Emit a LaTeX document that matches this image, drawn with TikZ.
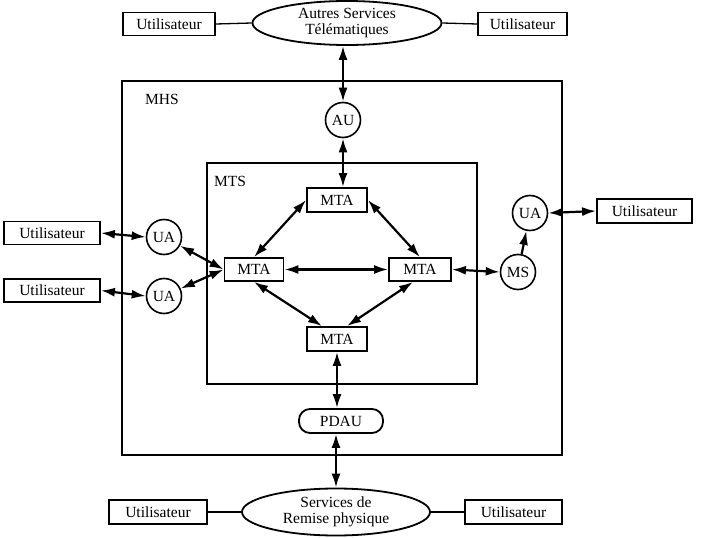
\documentclass[tikz,border=0pt]{standalone}
\usepackage{fontspec}
\setmainfont{Liberation Serif}
\usetikzlibrary{shapes.geometric,arrows.meta,calc}
\begin{document}
\begin{tikzpicture}[x=1pt,y=-1pt,
  every node/.style={font=\fontsize{15.5}{16}\selectfont, inner sep=0pt},
  userbox/.style={draw, line width=1.8pt, minimum height=23pt},
  mtabox/.style={draw, line width=1.8pt, minimum width=60pt, minimum height=24pt},
  agent/.style={draw, circle, line width=1.6pt, minimum size=35pt},
  svc/.style={draw, ellipse, line width=1.8pt, align=center},
  frame/.style={draw, line width=1.8pt},
  link/.style={line width=1.3pt},
  biarrow/.style={line width=2.2pt, {Latex[length=14pt,width=9pt]}-{Latex[length=14pt,width=9pt]}},
  onearrow/.style={line width=2.2pt, -{Latex[length=14pt,width=9pt]}}
]
\useasboundingbox (0,0) rectangle (710,538);

% frames
\draw[frame] (122,81) rectangle (562,455);
\draw[frame] (207,163) rectangle (477,384);
\node[anchor=west] (mhs) at (145,99) {MHS};
\node[anchor=west] (mts) at (214,181) {MTS};

% top
\node[userbox, minimum width=92pt] (uTL) at (169,24) {Utilisateur};
\node[svc, minimum width=189pt, minimum height=44pt] (ell1) at (347,23) {Autres Services\\Télématiques};
\node[userbox, minimum width=89pt] (uTR) at (522.5,24) {Utilisateur};
\node[agent] (AU) at (343,120) {AU};

% MTAs
\node[mtabox] (mtaT) at (337,200) {MTA};
\node[mtabox, minimum width=59pt, minimum height=23pt] (mtaL) at (254,269.5) {MTA};
\node[mtabox, minimum width=62pt, minimum height=23pt] (mtaR) at (420,269.5) {MTA};
\node[mtabox] (mtaB) at (337,339) {MTA};

% right
\node[agent] (MS) at (518,272) {MS};
\node[agent] (UAr) at (530,213) {UA};
\node[userbox, minimum width=95pt, minimum height=24pt] (uR) at (644.5,211) {Utilisateur};

% left
\node[userbox, minimum width=96pt] (uL1) at (52,233) {Utilisateur};
\node[userbox, minimum width=96pt] (uL2) at (52,290.5) {Utilisateur};
\node[agent] (UA1) at (164,237) {UA};
\node[agent] (UA2) at (164,296) {UA};

% bottom
\node[draw, line width=1.8pt, rounded corners=11pt, minimum width=84pt, minimum height=24pt] (PDAU) at (341,421) {PDAU};
\node[svc, minimum width=188pt, minimum height=47pt] (ell2) at (336,512) {Services de\\Remise physique};
\node[userbox, minimum width=98pt, minimum height=24pt] (uBL) at (158,512) {Utilisateur};
\node[userbox, minimum width=97pt, minimum height=24pt] (uBR) at (513.5,512) {Utilisateur};

% connectors
\draw[link] (uTL.east) -- (ell1.west);
\draw[link] (ell1.east) -- (uTR.west);
\draw[link] (uBL.east) -- (ell2.west);
\draw[link] (ell2.east) -- (uBR.west);

\draw[biarrow] (AU.north) -- (AU.north |- ell1.south);
\draw[biarrow] (AU.south) -- (AU.south |- mtaT.north);

\draw[biarrow] (mtaT.west) -- (mtaL.north);
\draw[biarrow] (mtaT.east) -- (mtaR.north);
\draw[biarrow] (mtaL.east) -- (mtaR.west);
\draw[biarrow] (mtaL.south) -- ([xshift=-15pt]mtaB.north);
\draw[biarrow] ([xshift=-7pt]mtaR.south) -- ([xshift=10pt]mtaB.north);

\draw[biarrow] (mtaR.east) -- (MS.west);
\draw[onearrow] (MS) -- (UAr);
\draw[biarrow] (UAr.east) -- (uR.west);

\draw[biarrow] (uL1.east) -- (UA1.west);
\draw[biarrow] (uL2.east) -- (UA2.west);
\draw[biarrow] (UA1) -- (mtaL.west);
\draw[biarrow] (UA2) -- (mtaL.west);

\draw[biarrow] (mtaB.south) -- (mtaB.south |- PDAU.north);
\draw[biarrow] (ell2.north) -- (ell2.north |- PDAU.south);
\end{tikzpicture}
\end{document}
